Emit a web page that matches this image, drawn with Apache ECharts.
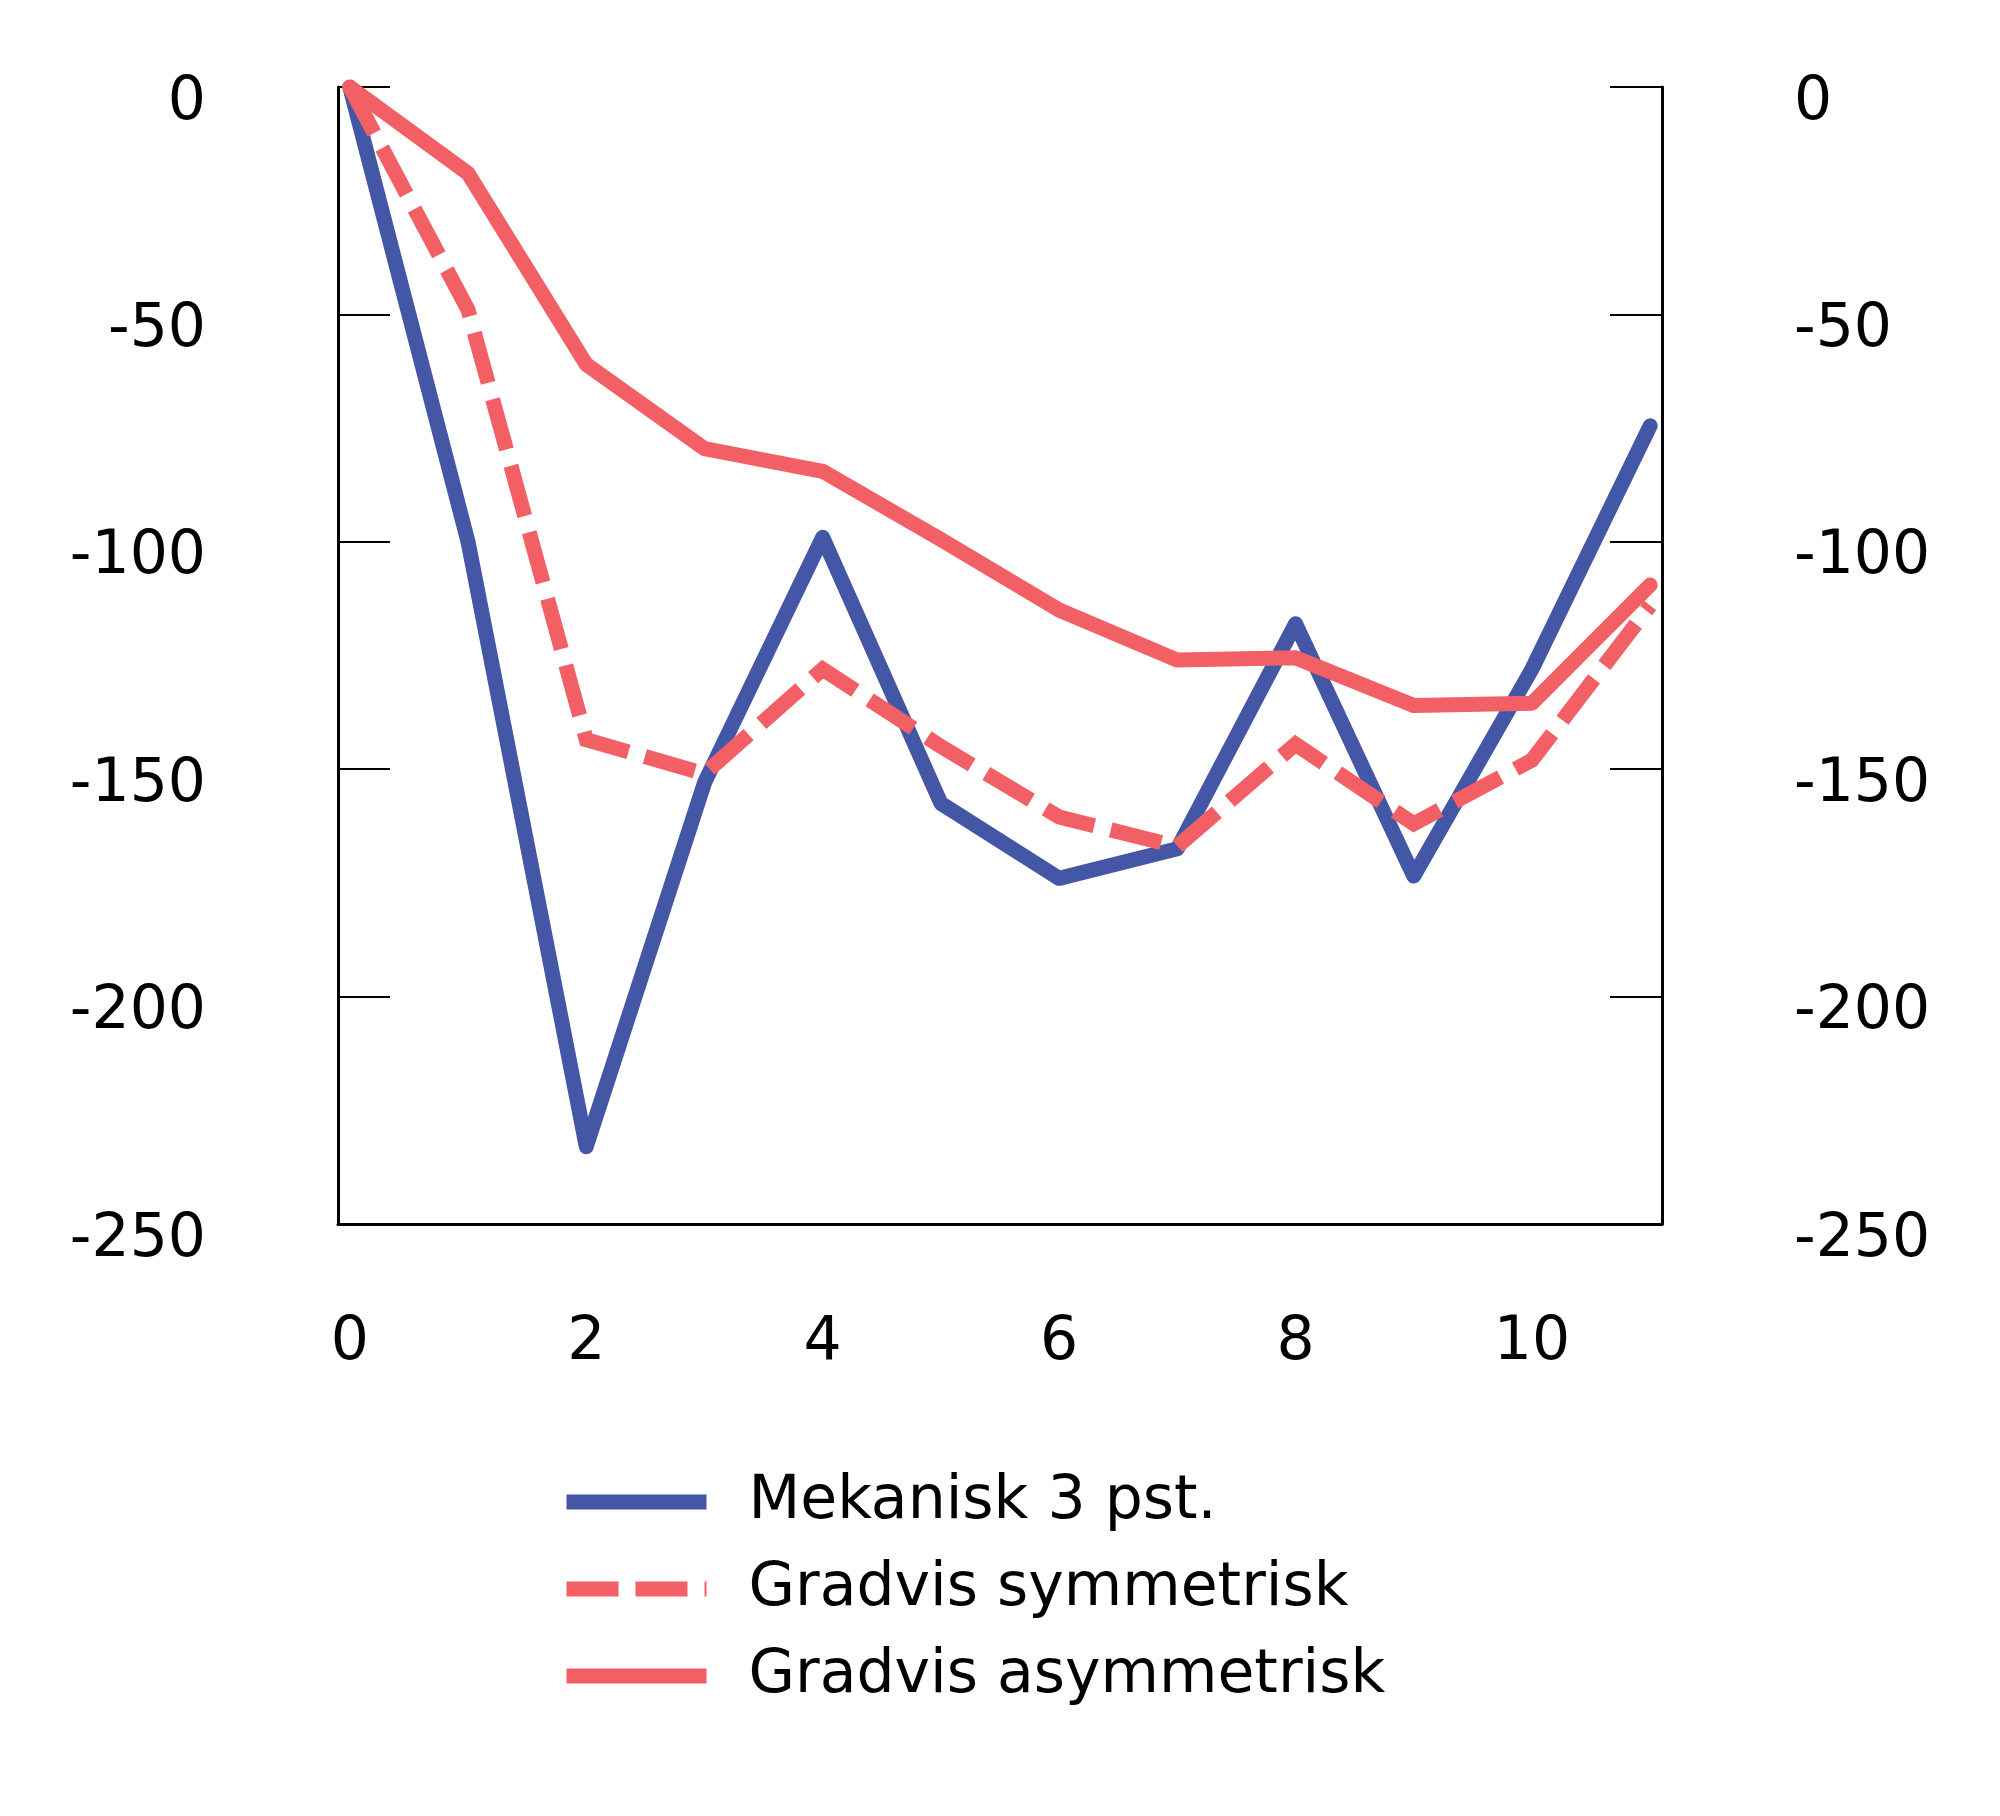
<!DOCTYPE html>
<html>
<head>
<meta charset="utf-8">
<title>Mekanisk og gradvis</title>
<script src="https://cdn.jsdelivr.net/npm/echarts@6/dist/echarts.min.js"></script>
<style>
    html, body, #main { width: 100%; height: 100%; margin: 0; padding: 0; background: #ffffff; }
</style>
</head>
<body>
<div id="main"></div>
<script>
// år etter innføring
var years = [0, 1, 2, 3, 4, 5, 6, 7, 8, 9, 10, 11];
var xTickLabels = [0, 2, 4, 6, 8, 10];
var yTicks = [0, -50, -100, -150, -200, -250];

var seriesNames = ['Mekanisk 3 pst.', 'Gradvis symmetrisk', 'Gradvis asymmetrisk'];
var mekanisk = [0, -100, -233, -153, -99, -157.5, -174, -167.5, -118, -173.5, -128, -74.5];
var symmetrisk = [0, -49, -143.5, -151, -128, -145, -160.5, -167, -144.5, -162, -148, -114];
var asymmetrisk = [0, -19, -61, -79.5, -84.5, -99.5, -115, -126, -125.5, -136, -135.5, -109.5];

var BLUE = '#4457a7';
var RED = '#f26065';
var FONT = 'DejaVu Sans';

function pairs(vals) {
    var out = [];
    for (var i = 0; i < vals.length; i++) out.push([years[i], vals[i]]);
    return out;
}

function yAxis(pos) {
    return {
        type: 'value',
        position: pos,
        min: yTicks[yTicks.length - 1],
        max: yTicks[0],
        interval: 50,
        axisLine: { show: true, onZero: false, lineStyle: { color: '#000', width: 3 } },
        axisTick: { show: true, inside: true, length: 52, lineStyle: { color: '#000', width: 2 } },
        splitLine: { show: false },
        axisLabel: {
            margin: 132,
            color: '#000',
            fontFamily: FONT,
            fontSize: 60,
            verticalAlign: 'top',
            lineHeight: 32
        }
    };
}

var chart = echarts.init(document.getElementById('main'));
chart.setOption({
    animation: false,
    backgroundColor: '#ffffff',
    grid: { left: 338, right: 338, top: 87, bottom: 592, containLabel: false },
    xAxis: {
        type: 'value',
        min: -0.1,
        max: 11.1,
        axisLine: { show: true, onZero: false, lineStyle: { color: '#000', width: 3 } },
        axisTick: { show: false },
        splitLine: { show: false },
        axisLabel: {
            customValues: xTickLabels,
            margin: 119,
            verticalAlign: 'middle',
            color: '#000',
            fontFamily: FONT,
            fontSize: 60
        }
    },
    yAxis: [yAxis('left'), yAxis('right')],
    legend: {
        orient: 'vertical',
        left: 554,
        top: 1467,
        itemWidth: 140,
        itemHeight: 15,
        itemGap: 27,
        itemStyle: { opacity: 0 },
        lineStyle: { width: 15, cap: 'butt' },
        textStyle: { color: '#000', fontFamily: FONT, fontSize: 60, padding: [0, 0, 0, 37] },
        data: seriesNames
    },
    series: [
        {
            name: seriesNames[0], type: 'line', data: pairs(mekanisk),
            symbol: 'none', color: BLUE,
            lineStyle: { color: BLUE, width: 15, cap: 'round', join: 'round' }
        },
        {
            name: seriesNames[1], type: 'line', data: pairs(symmetrisk),
            symbol: 'none', color: RED,
            lineStyle: { color: RED, width: 15, type: [52, 17], join: 'miter' }
        },
        {
            name: seriesNames[2], type: 'line', data: pairs(asymmetrisk),
            symbol: 'none', color: RED,
            lineStyle: { color: RED, width: 15, cap: 'round', join: 'round' }
        }
    ]
});
</script>
</body>
</html>
